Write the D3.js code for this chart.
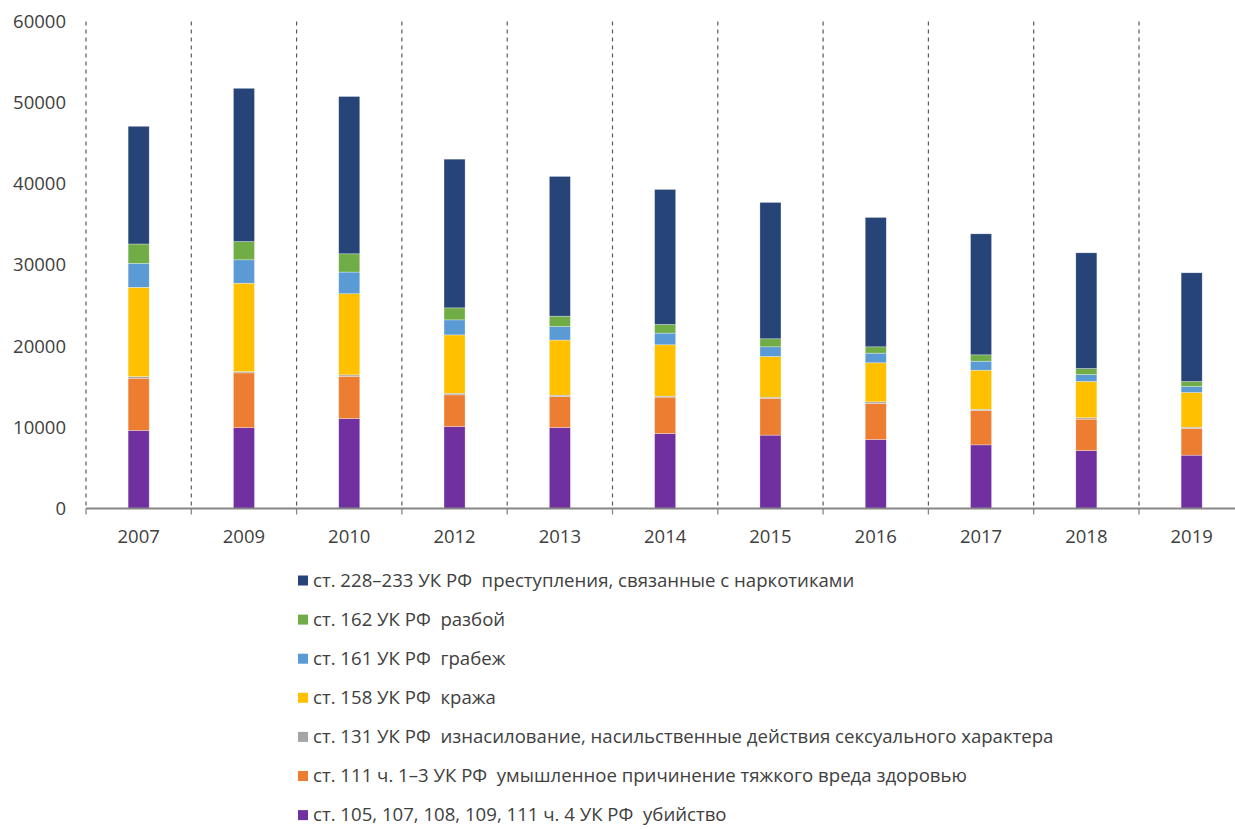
<!DOCTYPE html>
<html><head><meta charset="utf-8">
<script src="https://cdn.jsdelivr.net/npm/d3@7"></script>
<style>
html,body{margin:0;padding:0;background:#fff;}
svg text{font-family:"Open Sans","Liberation Sans",sans-serif;}
</style></head>
<body>
<svg id="c" width="1235" height="829"></svg>
<script>
const years = ["2007","2009","2010","2012","2013","2014","2015","2016","2017","2018","2019"];
const murder   = [9630, 9960, 11080, 10100, 9980, 9240, 9040, 8500, 7840, 7150, 6570];
const harm     = [6420, 6750, 5210, 3900, 3820, 4480, 4520, 4440, 4230, 3860, 3290];
const rape     = [200, 150, 170, 200, 170, 130, 160, 200, 160, 160, 160];
const theft    = [11000, 10900, 10000, 7190, 6780, 6320, 5010, 4810, 4810, 4480, 4270];
const robbery  = [2960, 2880, 2670, 1850, 1680, 1440, 1190, 1190, 1110, 860, 740];
const brigand  = [2380, 2250, 2250, 1480, 1270, 1070, 990, 780, 780, 740, 620];
const drugs    = [14500, 18880, 19380, 18320, 17210, 16630, 16800, 15940, 14910, 14250, 13390];
const yTicks = [0, 10000, 20000, 30000, 40000, 50000, 60000];

const seriesNames = [
  "ст. 105, 107, 108, 109, 111 ч. 4 УК РФ  убийство",
  "ст. 111 ч. 1–3 УК РФ  умышленное причинение тяжкого вреда здоровью",
  "ст. 131 УК РФ  изнасилование, насильственные действия сексуального характера",
  "ст. 158 УК РФ  кража",
  "ст. 161 УК РФ  грабеж",
  "ст. 162 УК РФ  разбой",
  "ст. 228–233 УК РФ  преступления, связанные с наркотиками"
];
const seriesValues = [murder, harm, rape, theft, robbery, brigand, drugs];
const colors = ["#7030A0","#ED7D31","#A5A5A5","#FFC000","#5B9BD5","#70AD47","#264478"];

const keys = seriesNames.map((_, i) => "s" + i);
const table = years.map((y, j) => {
  const r = {year: y};
  keys.forEach((k, i) => r[k] = seriesValues[i][j]);
  return r;
});
const stacked = d3.stack().keys(keys)(table);

const svg = d3.select("#c");
const x0 = 86, step = 105.3;
const xb = d3.scaleBand().domain(years).range([x0, x0 + step * years.length]).padding(0);
const x = d3.scaleBand().domain(years).range([x0, x0 + step * years.length]).paddingInner(0.8).paddingOuter(0.4);
const y = d3.scaleLinear().domain([0, 60000]).range([508.5, 21.5]);

// dashed separators
svg.append("g").selectAll("line").data(years).join("line")
  .attr("x1", d => xb(d)).attr("x2", d => xb(d))
  .attr("y1", y(60000)).attr("y2", y(0))
  .attr("stroke", "#595959").attr("stroke-width", 1.2).attr("stroke-dasharray", "4,4");

// bars
svg.append("g").selectAll("g").data(stacked).join("g")
  .attr("fill", (d, i) => colors[i])
  .selectAll("rect").data(d => d).join("rect")
  .attr("x", d => x(d.data.year)).attr("width", x.bandwidth())
  .attr("y", d => y(d[1])).attr("height", d => y(d[0]) - y(d[1]))
  .attr("stroke", "#ffffff").attr("stroke-opacity", 0.5).attr("stroke-width", 0.6);

// x axis
const xAxis = svg.append("g").attr("transform", `translate(0,${y(0)})`);
xAxis.append("line").attr("x1", x0).attr("x2", 1235).attr("y1", 0).attr("y2", 0)
  .attr("stroke", "#868686").attr("stroke-width", 1.8);
xAxis.selectAll("line.tk").data(years).join("line").attr("class", "tk")
  .attr("x1", d => xb(d)).attr("x2", d => xb(d)).attr("y1", 0).attr("y2", 6)
  .attr("stroke", "#868686").attr("stroke-width", 1.3);
xAxis.selectAll("text").data(years).join("text")
  .attr("x", d => xb(d) + xb.bandwidth() / 2).attr("y", 34)
  .attr("text-anchor", "middle").attr("fill", "#404040").attr("font-size", 18.5)
  .text(d => d);

// y labels
svg.append("g").selectAll("text").data(yTicks).join("text")
  .attr("x", 66).attr("y", d => y(d)).attr("dy", "0.35em")
  .attr("text-anchor", "end").attr("fill", "#404040").attr("font-size", 18.5)
  .text(d => d);

// legend
const legOrder = [6, 5, 4, 3, 2, 1, 0];
const leg = svg.append("g").selectAll("g").data(legOrder).join("g")
  .attr("transform", (d, i) => `translate(298,${580.5 + i * 39.1})`);
leg.append("rect").attr("x", 0).attr("y", -5).attr("width", 10).attr("height", 10)
  .attr("fill", d => colors[d]);
leg.append("text").attr("x", 15).attr("y", 0).attr("dy", "0.34em")
  .attr("font-size", 18.6).attr("fill", "#404040").style("white-space", "pre")
  .text(d => seriesNames[d]);
</script>
</body></html>
